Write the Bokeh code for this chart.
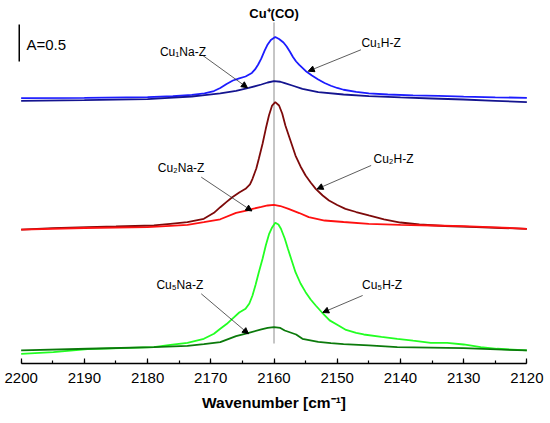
from bokeh.plotting import figure
from bokeh.models import Range1d, SingleIntervalTicker, Label, Arrow, NormalHead
from bokeh.embed import file_html
from bokeh.resources import INLINE

# ---------------- data (absorbance relative to each group's baseline) ----------------
cu1h_wn = [2200, 2190, 2180, 2176, 2173, 2171, 2169.5, 2168.5, 2167.5, 2166.5, 2165.5, 2164.5,
           2163.5, 2163, 2162.5, 2162, 2161.5, 2161, 2160.5, 2159.8, 2159.2, 2158.5, 2158, 2157.5,
           2157, 2156.5, 2156, 2155, 2154, 2153, 2152, 2151, 2150, 2149, 2147, 2145, 2142, 2138,
           2134, 2130, 2125, 2120]
cu1h_abs = [0.004, 0.009, 0.018, 0.030, 0.050, 0.070, 0.101, 0.142, 0.196, 0.243, 0.273, 0.297,
            0.345, 0.392, 0.459, 0.541, 0.642, 0.730, 0.791, 0.831, 0.804, 0.757, 0.703, 0.635,
            0.561, 0.500, 0.453, 0.372, 0.311, 0.257, 0.209, 0.172, 0.142, 0.118, 0.088, 0.068,
            0.054, 0.043, 0.034, 0.024, 0.016, 0.009]

cu1na_wn = [2200, 2190, 2180, 2176.6, 2173, 2171.3, 2168.5, 2166, 2164, 2162, 2161, 2160, 2159,
            2158.3, 2157, 2155.5, 2153, 2149, 2145, 2140, 2135, 2130, 2125, 2120]
cu1na_abs = [-0.031, -0.022, -0.008, 0.009, 0.027, 0.041, 0.070, 0.104, 0.142, 0.189, 0.216, 0.234,
             0.226, 0.207, 0.172, 0.131, 0.085, 0.054, 0.031, 0.014, 0.000, -0.014, -0.031, -0.050]

cu2h_wn = [2200, 2195, 2189.5, 2185, 2179, 2176.4, 2173.7, 2171.1, 2169.5, 2168.5, 2167.5, 2166.6,
           2165.5, 2164.5, 2163.8, 2163.4, 2162.8, 2162.4, 2161.8, 2161.3, 2160.8, 2160.3, 2159.8,
           2159.2, 2158.7, 2158.2, 2157.4, 2156.6, 2155.8, 2155, 2154.2, 2153.4, 2152.3, 2151.3,
           2150, 2148.7, 2147, 2145, 2142.6, 2140, 2137, 2133, 2128, 2124, 2120]
cu2h_abs = [-0.014, 0.005, 0.018, 0.027, 0.041, 0.064, 0.085, 0.131, 0.212, 0.288, 0.360, 0.423,
            0.486, 0.536, 0.595, 0.672, 0.811, 0.942, 1.149, 1.347, 1.527, 1.662, 1.707,
            1.662, 1.554, 1.392, 1.189, 0.986, 0.838, 0.716, 0.622, 0.536, 0.446, 0.378,
            0.318, 0.266, 0.223, 0.176, 0.122, 0.081, 0.054, 0.034, 0.018, 0.007, -0.004]

cu2na_wn = [2200, 2190, 2180, 2176.4, 2173.7, 2171.1, 2168.5, 2166, 2164, 2163.4, 2162, 2161, 2160,
            2159, 2157.7, 2156, 2154.5, 2152, 2149, 2145, 2140, 2135, 2130, 2125, 2120]
cu2na_abs = [-0.014, 0.007, 0.018, 0.036, 0.050, 0.085, 0.125, 0.212, 0.250, 0.266, 0.291, 0.311,
             0.320, 0.304, 0.266, 0.209, 0.153, 0.108, 0.088, 0.064, 0.050, 0.041, 0.031, 0.016,
             -0.004]

cu5h_wn = [2200, 2194.9, 2189.5, 2184.3, 2179, 2176.4, 2173.7, 2171.1, 2169.5, 2168.5, 2167.5,
           2166.6, 2165.5, 2164.5, 2163.9, 2163.4, 2162.9, 2162.4, 2161.8, 2161.3, 2160.8, 2160.3,
           2159.8, 2159.3, 2158.9, 2158.3, 2157.8, 2157.2, 2156.6, 2155.8, 2155, 2154.2, 2153.4,
           2152.4, 2151.2, 2150, 2148.6, 2147, 2145.8, 2143, 2140.5, 2138, 2135.2, 2132.6, 2130,
           2127.3, 2124.7, 2120]
cu5h_abs = [-0.072, -0.050, -0.009, 0.004, 0.018, 0.050, 0.077, 0.131, 0.199, 0.266, 0.330,
            0.401, 0.486, 0.536, 0.608, 0.716, 0.865, 1.031, 1.216, 1.392, 1.541, 1.635,
            1.699, 1.676, 1.618, 1.486, 1.347, 1.189, 1.031, 0.878, 0.761, 0.662, 0.581,
            0.486, 0.380, 0.320, 0.250, 0.212, 0.189, 0.158, 0.131, 0.105, 0.077, 0.077, 0.054,
            0.018, -0.004, -0.027]

cu5na_wn = [2200, 2189.5, 2179, 2173.7, 2171.1, 2168.5, 2166, 2164, 2162, 2161, 2160, 2159, 2158.3,
            2156.5, 2155.5, 2153, 2151, 2149, 2145, 2140.5, 2130, 2120]
cu5na_abs = [-0.027, -0.004, 0.018, 0.036, 0.058, 0.085, 0.166, 0.212, 0.257, 0.277, 0.288, 0.277,
             0.243, 0.189, 0.131, 0.088, 0.072, 0.060, 0.041, 0.018, 0.004, -0.027]

series_names = ["Cu₁H-Z", "Cu₁Na-Z", "Cu₂H-Z", "Cu₂Na-Z", "Cu₅H-Z", "Cu₅Na-Z"]
series_wn = [cu1h_wn, cu1na_wn, cu2h_wn, cu2na_wn, cu5h_wn, cu5na_wn]
series_abs = [cu1h_abs, cu1na_abs, cu2h_abs, cu2na_abs, cu5h_abs, cu5na_abs]
series_offset = [3.581, 3.581, 1.824, 1.824, 0.203, 0.203]
series_color = ["#1c1cff", "#14148f", "#7d0a0a", "#ff1010", "#22ff22", "#0b7a0b"]

peak_position = 2160
peak_label = "Cu⁺(CO)"
scale_bar_value = 0.5
x_ticks_interval = 10
x_title = "Wavenumber [cm⁻¹]"

# ---------------- figure ----------------
FONT = "Liberation Sans"
p = figure(width=548, height=421, output_backend="svg", toolbar_location=None,
           x_range=Range1d(2202, 2118), y_range=Range1d(0, 4.905),
           y_axis_location=None, min_border_left=8, min_border_right=9,
           min_border_top=0, min_border_bottom=58)
p.grid.visible = False
p.outline_line_color = None
p.background_fill_color = "white"
p.border_fill_color = "white"

# vertical reference line at the Cu+(CO) band
p.segment(x0=[peak_position], y0=[0.270], x1=[peak_position], y1=[4.608],
          line_color="#8c8c8c", line_width=1)

for wn, ab, off, col in zip(series_wn, series_abs, series_offset, series_color):
    p.line(wn, [a + off for a in ab], line_color=col, line_width=1.8)

# scale bar
p.segment(x0=[2200.3], y0=[4.081], x1=[2200.3], y1=[4.081 + scale_bar_value],
          line_color="black", line_width=1.5)
p.add_layout(Label(x=2199.15, y=4.311, text="A=%s" % scale_bar_value, text_font=FONT,
                   text_font_size="15px", text_baseline="middle", text_align="left",
                   text_color="black"))

p.add_layout(Label(x=peak_position, y=4.730, text=peak_label, text_font=FONT,
                   text_font_size="13px", text_font_style="bold", text_baseline="middle",
                   text_align="center", text_color="black"))

# annotations with arrows
label_pos = [(2143.05, 4.324), (2174.4, 4.203), (2141.1, 2.770), (2174.7, 2.635),
             (2142.9, 1.054), (2174.9, 1.054)]
arrow_pos = [((2146.25, 4.239), (2154.58, 3.950)),
             ((2171.26, 4.162), (2164.2, 3.726)),
             ((2144.63, 2.676), (2153.19, 2.358)),
             ((2171.51, 2.518), (2163.49, 2.061)),
             ((2145.98, 0.919), (2152.29, 0.689)),
             ((2171.51, 0.942), (2164.04, 0.401))]
for name, (lx, ly), ((ax0, ay0), (ax1, ay1)) in zip(series_names, label_pos, arrow_pos):
    p.add_layout(Label(x=lx, y=ly, text=name, text_font=FONT, text_font_size="12px",
                       text_baseline="middle", text_align="center", text_color="black"))
    p.add_layout(Arrow(x_start=ax0, y_start=ay0, x_end=ax1, y_end=ay1,
                       line_color="#333333", line_width=0.8,
                       end=NormalHead(size=6, fill_color="black", line_color="black")))

# x axis
ax = p.xaxis[0]
ax.ticker = SingleIntervalTicker(interval=x_ticks_interval, num_minor_ticks=2)
ax.bounds = (2120, 2200)
ax.axis_line_color = "black"
ax.axis_line_width = 1.3
ax.major_tick_in = 5
ax.major_tick_out = 0
ax.minor_tick_in = 3
ax.minor_tick_out = 0
ax.major_tick_line_color = "black"
ax.minor_tick_line_color = "black"
ax.major_tick_line_width = 1.2
ax.minor_tick_line_width = 1.2
ax.major_label_text_font = FONT
ax.major_label_text_font_size = "15px"
ax.major_label_text_color = "black"
ax.major_label_standoff = 9
ax.axis_label = x_title
ax.axis_label_text_font = FONT
ax.axis_label_text_font_size = "15.5px"
ax.axis_label_text_font_style = "bold"
ax.axis_label_text_color = "black"
ax.axis_label_standoff = 8

open("out.html", "w").write(file_html(p, INLINE))
